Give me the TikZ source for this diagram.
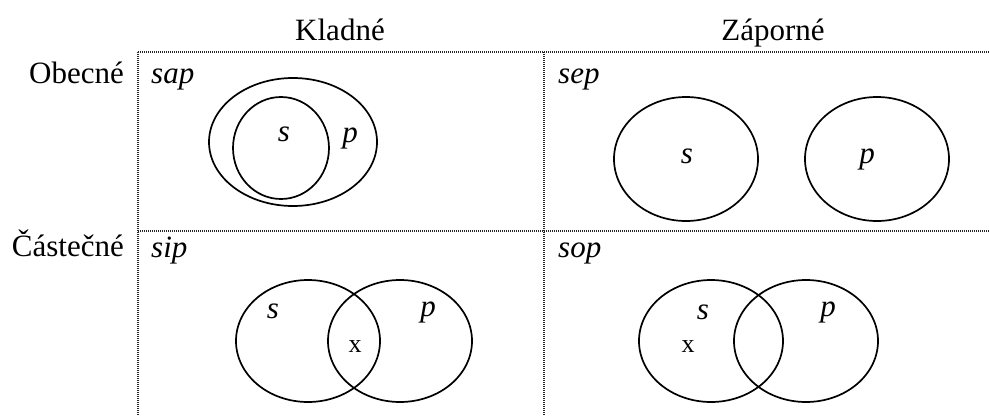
\documentclass[tikz,border=0pt]{standalone}
\usepackage{fontspec}
\setmainfont{Liberation Serif}
\usetikzlibrary{shapes.geometric}
\begin{document}
\begin{tikzpicture}[x=1pt,y=-1pt,
  grid/.style={line width=1.1pt,dash pattern=on 1pt off 1pt,black!85},
  venn/.style={draw,ellipse,line width=1.7pt,inner sep=0pt},
  head/.style={font=\fontsize{31}{36}\selectfont,inner sep=0pt,anchor=base},
  lab/.style={font=\fontsize{31}{36}\selectfont\itshape,inner sep=0pt,anchor=base},
  xmark/.style={font=\fontsize{26}{30}\selectfont,inner sep=0pt,anchor=base}]
\useasboundingbox (0,0) rectangle (989,416);
% grid
\coordinate (tl) at (138,52);
\coordinate (tr) at (989,52);
\coordinate (ml) at (138,231);
\coordinate (mr) at (989,231);
\coordinate (vt1) at (138,52);
\coordinate (vb1) at (138,416);
\coordinate (vt2) at (544,52);
\coordinate (vb2) at (544,416);
\draw[grid] (tl) -- (tr);
\draw[grid] (ml) -- (mr);
\draw[grid] (vt1) -- (vb1);
\draw[grid] (vt2) -- (vb2);
% headers
\node[head] (kl) at (340,40) {Kladné};
\node[head] (za) at (773,40) {Záporné};
\node[head,anchor=base east] (ob) at (124,83) {Obecné};
\node[head,anchor=base east] (ca) at (124,256) {Částečné};
% cell labels
\node[lab,anchor=base west] (sap) at (151,83) {sap};
\node[lab,anchor=base west] (sep) at (558,83) {sep};
\node[lab,anchor=base west] (sip) at (151,257) {sip};
\node[lab,anchor=base west] (sop) at (558,257) {sop};
% sap
\node[venn,minimum width=168,minimum height=128] (sapP) at (293,142) {};
\node[venn,minimum width=96,minimum height=102] (sapS) at (281,148) {};
\node[lab] (sapSl) at (284,141) {s};
\node[lab] (sapPl) at (350,142) {p};
% sep
\node[venn,minimum width=144,minimum height=124] (sepS) at (686,159) {};
\node[venn,minimum width=144,minimum height=124] (sepP) at (877,159) {};
\node[lab] (sepSl) at (687,163) {s};
\node[lab] (sepPl) at (867,163) {p};
% sip
\node[venn,minimum width=144,minimum height=122] (sipS) at (308,341) {};
\node[venn,minimum width=144,minimum height=122] (sipP) at (400,341) {};
\node[lab] (sipSl) at (273,318) {s};
\node[lab] (sipPl) at (428,316) {p};
\node[xmark] (sipX) at (355,352) {x};
% sop
\node[venn,minimum width=144,minimum height=122] (sopS) at (711,341) {};
\node[venn,minimum width=144,minimum height=122] (sopP) at (806,341) {};
\node[lab] (sopSl) at (703,319) {s};
\node[lab] (sopPl) at (828,316) {p};
\node[xmark] (sopX) at (688,352) {x};
\end{tikzpicture}
\end{document}
